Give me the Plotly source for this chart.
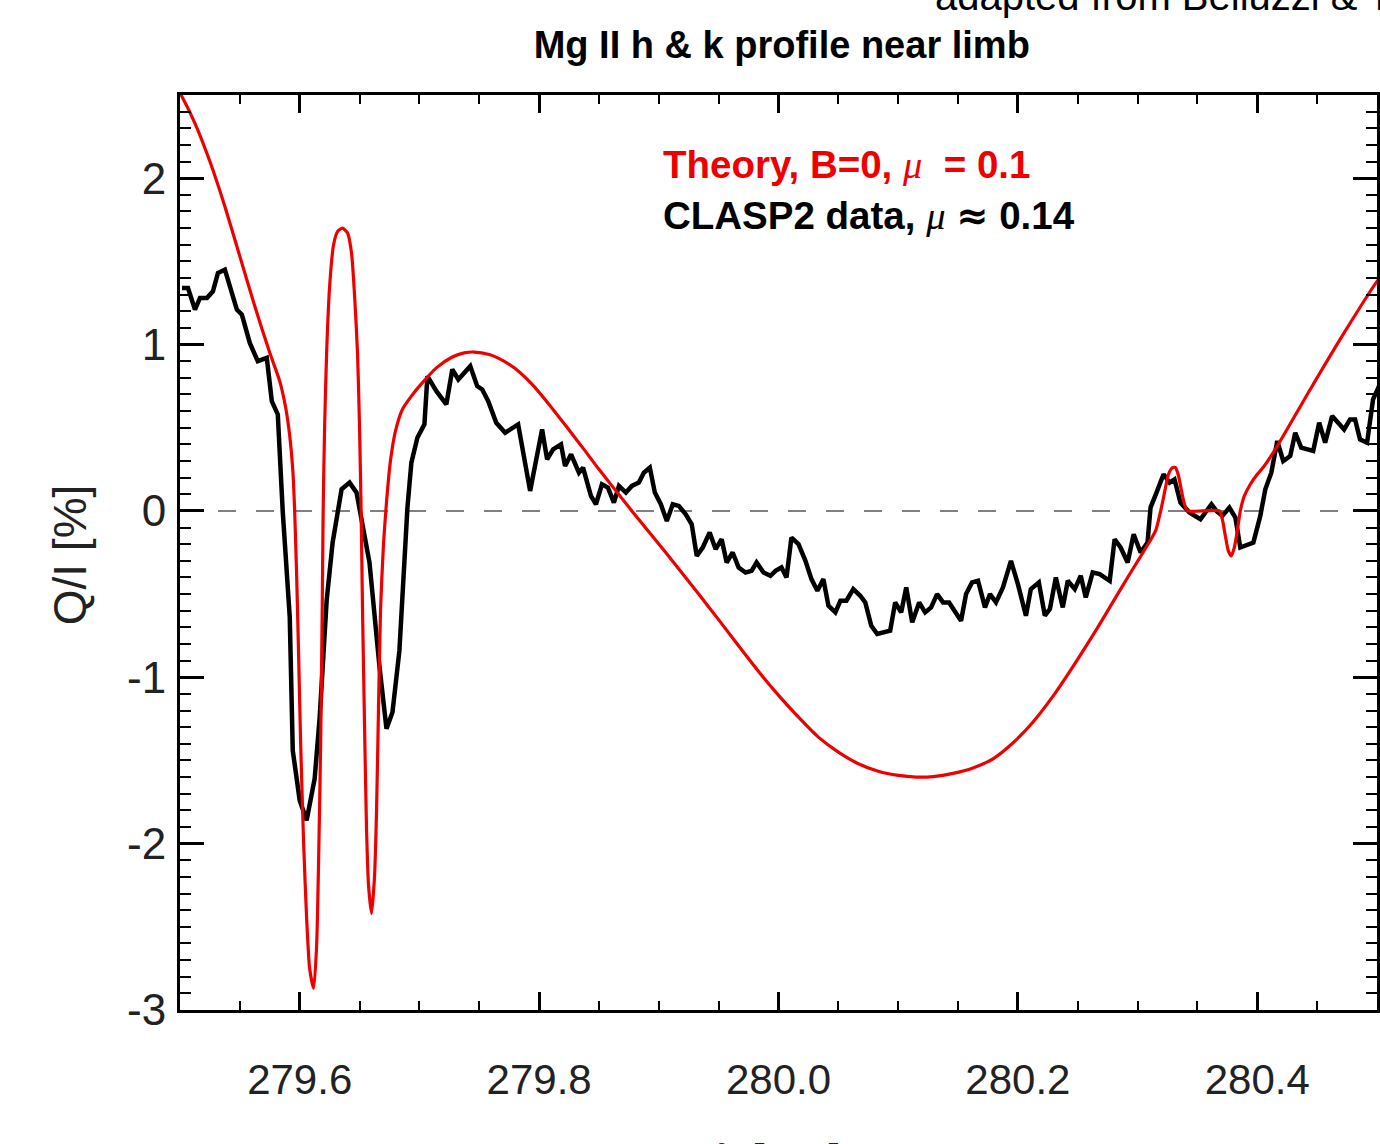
import plotly.graph_objects as go

# CLASP2 observed Q/I profile (wavelength in nm, Q/I in %)
clasp2_wl = [
    279.5017, 279.5067, 279.5125, 279.5167, 279.5225, 279.5275, 279.5317, 279.5375,
    279.5475, 279.5517, 279.5583, 279.5650, 279.5725, 279.5767, 279.5817, 279.5858,
    279.5917, 279.5942, 279.6000, 279.6058, 279.6125, 279.6167, 279.6225, 279.6275,
    279.6350, 279.6417, 279.6475, 279.6525, 279.6583, 279.6667, 279.6725, 279.6775,
    279.6833, 279.6900, 279.6933, 279.6983, 279.7042, 279.7067, 279.7142, 279.7225,
    279.7275, 279.7325, 279.7425, 279.7483, 279.7525, 279.7575, 279.7642, 279.7717,
    279.7825, 279.7925, 279.8025, 279.8067, 279.8117, 279.8183, 279.8217, 279.8267,
    279.8308, 279.8333, 279.8367, 279.8433, 279.8475, 279.8525, 279.8575, 279.8625,
    279.8667, 279.8725, 279.8775, 279.8833, 279.8875, 279.8925, 279.8967, 279.9017,
    279.9067, 279.9117, 279.9167, 279.9225, 279.9275, 279.9317, 279.9367, 279.9425,
    279.9475, 279.9525, 279.9567, 279.9617, 279.9667, 279.9725, 279.9775, 279.9817,
    279.9875, 279.9933, 279.9975, 280.0025, 280.0067, 280.0108, 280.0167, 280.0225,
    280.0275, 280.0325, 280.0375, 280.0417, 280.0475, 280.0517, 280.0567, 280.0625,
    280.0683, 280.0725, 280.0775, 280.0825, 280.0933, 280.0975, 280.1025, 280.1067,
    280.1117, 280.1175, 280.1225, 280.1275, 280.1325, 280.1375, 280.1425, 280.1475,
    280.1525, 280.1567, 280.1617, 280.1667, 280.1725, 280.1767, 280.1817, 280.1875,
    280.1942, 280.2000, 280.2067, 280.2108, 280.2175, 280.2225, 280.2267, 280.2317,
    280.2375, 280.2417, 280.2475, 280.2525, 280.2567, 280.2625, 280.2683, 280.2767,
    280.2808, 280.2858, 280.2917, 280.2967, 280.3025, 280.3083, 280.3108, 280.3158,
    280.3217, 280.3267, 280.3308, 280.3358, 280.3433, 280.3525, 280.3567, 280.3617,
    280.3658, 280.3708, 280.3767, 280.3817, 280.3858, 280.3967, 280.4025, 280.4067,
    280.4117, 280.4167, 280.4217, 280.4275, 280.4317, 280.4367, 280.4467, 280.4517,
    280.4567, 280.4625, 280.4725, 280.4775, 280.4817, 280.4858, 280.4917, 280.4967,
    280.5017,
]
clasp2_qi = [
    1.34, 1.34, 1.21, 1.28, 1.28, 1.32, 1.43, 1.45,
    1.21, 1.18, 1.01, 0.90, 0.92, 0.66, 0.58, 0.00,
    -0.64, -1.44, -1.74, -1.86, -1.61, -1.24, -0.54, -0.19,
    0.13, 0.17, 0.11, -0.07, -0.31, -0.94, -1.31, -1.21,
    -0.84, 0.02, 0.29, 0.44, 0.52, 0.81, 0.72, 0.64,
    0.85, 0.79, 0.87, 0.75, 0.73, 0.66, 0.53, 0.47,
    0.52, 0.12, 0.49, 0.31, 0.37, 0.40, 0.27, 0.34,
    0.27, 0.23, 0.26, 0.09, 0.04, 0.16, 0.14, 0.05,
    0.15, 0.11, 0.15, 0.17, 0.23, 0.26, 0.11, 0.04,
    -0.06, 0.04, 0.03, -0.02, -0.08, -0.27, -0.22, -0.13,
    -0.23, -0.17, -0.31, -0.25, -0.34, -0.37, -0.36, -0.31,
    -0.37, -0.39, -0.36, -0.34, -0.40, -0.16, -0.20, -0.30,
    -0.41, -0.48, -0.41, -0.57, -0.61, -0.54, -0.54, -0.47,
    -0.51, -0.55, -0.69, -0.74, -0.72, -0.55, -0.61, -0.46,
    -0.67, -0.55, -0.61, -0.58, -0.50, -0.55, -0.55, -0.61,
    -0.66, -0.50, -0.43, -0.42, -0.58, -0.50, -0.55, -0.46,
    -0.30, -0.44, -0.63, -0.47, -0.43, -0.63, -0.59, -0.40,
    -0.58, -0.42, -0.47, -0.39, -0.52, -0.37, -0.38, -0.42,
    -0.17, -0.22, -0.31, -0.14, -0.25, -0.19, 0.02, 0.11,
    0.22, 0.17, 0.19, 0.05, -0.01, -0.05, -0.01, 0.04,
    0.00, -0.03, 0.02, -0.04, -0.22, -0.19, -0.03, 0.13,
    0.23, 0.42, 0.30, 0.33, 0.47, 0.38, 0.36, 0.53,
    0.41, 0.57, 0.49, 0.55, 0.55, 0.43, 0.41, 0.67,
    0.75,
]

# Theoretical Q/I profile, B = 0, mu = 0.1
theory_wl = [
    279.4983, 279.5017, 279.5125, 279.5250, 279.5375, 279.5500, 279.5625, 279.5750,
    279.5833, 279.5883, 279.5917, 279.5942, 279.5958, 279.5975, 279.5992, 279.6008,
    279.6033, 279.6058, 279.6083, 279.6117, 279.6142, 279.6158, 279.6175, 279.6188,
    279.6196, 279.6208, 279.6225, 279.6250, 279.6283, 279.6317, 279.6358, 279.6400,
    279.6433, 279.6458, 279.6483, 279.6500, 279.6513, 279.6525, 279.6542, 279.6558,
    279.6575, 279.6600, 279.6625, 279.6642, 279.6658, 279.6675, 279.6700, 279.6725,
    279.6758, 279.6800, 279.6858, 279.6933, 279.7000, 279.7142, 279.7275, 279.7375,
    279.7458, 279.7583, 279.7667, 279.7792, 279.7942, 279.8083, 279.8225, 279.8375,
    279.8500, 279.8775, 279.9058, 279.9333, 279.9517, 279.9692, 279.9850, 280.0008,
    280.0167, 280.0333, 280.0500, 280.0667, 280.0833, 280.1000, 280.1150, 280.1292,
    280.1458, 280.1625, 280.1792, 280.1958, 280.2125, 280.2292, 280.2483, 280.2667,
    280.2792, 280.2917, 280.3058, 280.3150, 280.3183, 280.3208, 280.3233, 280.3258,
    280.3292, 280.3317, 280.3342, 280.3367, 280.3392, 280.3417, 280.3683, 280.3708,
    280.3733, 280.3758, 280.3783, 280.3808, 280.3833, 280.3858, 280.3892, 280.3942,
    280.4000, 280.4058, 280.4167, 280.4442, 280.4725, 280.5000, 280.5033,
]
theory_qi = [
    2.53, 2.49, 2.33, 2.10, 1.83, 1.53, 1.23, 0.95,
    0.78, 0.62, 0.45, 0.25, 0.00, -0.40, -0.90, -1.40,
    -2.00, -2.45, -2.75, -2.87, -2.60, -2.10, -1.40, -0.60,
    0.00, 0.50, 0.95, 1.35, 1.60, 1.68, 1.70, 1.67,
    1.55, 1.30, 0.95, 0.50, 0.00, -0.60, -1.30, -1.90,
    -2.25, -2.42, -2.20, -1.80, -1.20, -0.60, -0.20, 0.05,
    0.30, 0.48, 0.61, 0.69, 0.75, 0.86, 0.925, 0.95,
    0.955, 0.94, 0.915, 0.86, 0.76, 0.64, 0.51, 0.37,
    0.25, 0.00, -0.25, -0.50, -0.67, -0.835, -0.98, -1.115,
    -1.24, -1.36, -1.45, -1.52, -1.565, -1.59, -1.60, -1.597,
    -1.578, -1.545, -1.49, -1.395, -1.27, -1.115, -0.91, -0.70,
    -0.55, -0.40, -0.235, -0.12, -0.03, 0.05, 0.14, 0.22,
    0.26, 0.26, 0.21, 0.12, 0.04, 0.00, 0.00, -0.05,
    -0.15, -0.24, -0.27, -0.22, -0.12, 0.00, 0.09, 0.16,
    0.22, 0.27, 0.39, 0.73, 1.07, 1.38, 1.41,
]

x_tickvals = [279.6, 279.8, 280.0, 280.2, 280.4]
x_ticktext = ["279.6", "279.8", "280.0", "280.2", "280.4"]
y_tickvals = [-3, -2, -1, 0, 1, 2]
y_ticktext = ["-3", "-2", "-1", "0", "1", "2"]

SANS = "Liberation Sans, Arial, Helvetica, sans-serif"
RED = "#ee0000"
MU = "<span style=\"font-family:'Liberation Serif';font-style:italic;font-weight:normal\">μ</span>"
APPROX = "<span style=\"font-family:'DejaVu Sans'\">≈</span>"

fig = go.Figure()

fig.add_trace(go.Scatter(
    x=clasp2_wl, y=clasp2_qi, mode="lines",
    line=dict(color="black", width=4.5), showlegend=False, hoverinfo="skip",
))
fig.add_trace(go.Scatter(
    x=theory_wl, y=theory_qi, mode="lines",
    line=dict(color=RED, width=3.2, shape="spline", smoothing=0.6),
    showlegend=False, hoverinfo="skip",
))

# zero reference line
fig.add_shape(
    type="line", xref="paper", yref="y", x0=0, x1=1, y0=0, y1=0,
    line=dict(color="#808080", width=2, dash="18px,20px"), layer="below",
)

axis_common = dict(
    showgrid=False, zeroline=False, showline=True, linecolor="black", linewidth=3,
    ticks="inside", tickcolor="black", mirror="allticks",
)

fig.update_xaxes(
    range=[279.5, 280.5], tickmode="array", tickvals=x_tickvals, ticktext=x_ticktext,
    ticklen=18, tickwidth=2.5, ticklabelstandoff=31,
    tickfont=dict(family=SANS, size=42, color="#222222"),
    minor=dict(tickmode="linear", tick0=279.5, dtick=0.05, ticks="inside",
               ticklen=9, tickwidth=2, tickcolor="black"),
    **axis_common,
)
fig.update_yaxes(
    range=[-3, 2.5], tickmode="array", tickvals=y_tickvals, ticktext=y_ticktext,
    ticklen=24, tickwidth=2.5, ticklabelstandoff=2,
    tickfont=dict(family=SANS, size=44, color="#222222"),
    minor=dict(tickmode="linear", tick0=0, dtick=0.1, ticks="inside",
               ticklen=11, tickwidth=2, tickcolor="black"),
    **axis_common,
)

# key for the two curves
key_lines = [
    ("Theory, B=0, " + MU + "  = 0.1", RED, 165),
    ("CLASP2 data, " + MU + " " + APPROX + " 0.14", "black", 215),
]
for text, color, ypix in key_lines:
    fig.add_annotation(
        text=text, xref="paper", yref="paper",
        x=(662 - 180) / 1200, y=(1010 - ypix) / 915,
        xanchor="left", yanchor="middle", showarrow=False,
        font=dict(color=color, size=38.5, family=SANS, weight="bold"),
    )

# axis titles
fig.add_annotation(
    text="Q/I [%]", xref="paper", yref="paper", x=(70 - 180) / 1200, y=(1010 - 555) / 915,
    textangle=-90, xanchor="center", yanchor="middle", showarrow=False,
    font=dict(family=SANS, size=46, color="#222222"),
)
fig.add_annotation(
    text="λ [nm]", xref="paper", yref="paper", x=0.5, y=(1010 - 1133) / 915,
    xanchor="center", yanchor="top", showarrow=False,
    font=dict(family=SANS, size=46, color="#222222"),
)
# source note
fig.add_annotation(
    text="adapted from Belluzzi & Trujillo Bueno (2012)", xref="paper", yref="paper",
    x=(935 - 180) / 1200, y=(1010 - 20) / 915, xanchor="left", yanchor="bottom",
    showarrow=False, font=dict(family=SANS, size=40, color="black"),
)

fig.update_layout(
    width=1380, height=1144,
    margin=dict(l=180, r=0, t=95, b=134),
    paper_bgcolor="white", plot_bgcolor="white",
    title=dict(text="Mg II h & k profile near limb", x=0.5665, xanchor="center",
               y=1 - 45 / 1144, yanchor="middle",
               font=dict(family=SANS, size=38, color="black", weight="bold")),
)

fig.write_html("out.html")
